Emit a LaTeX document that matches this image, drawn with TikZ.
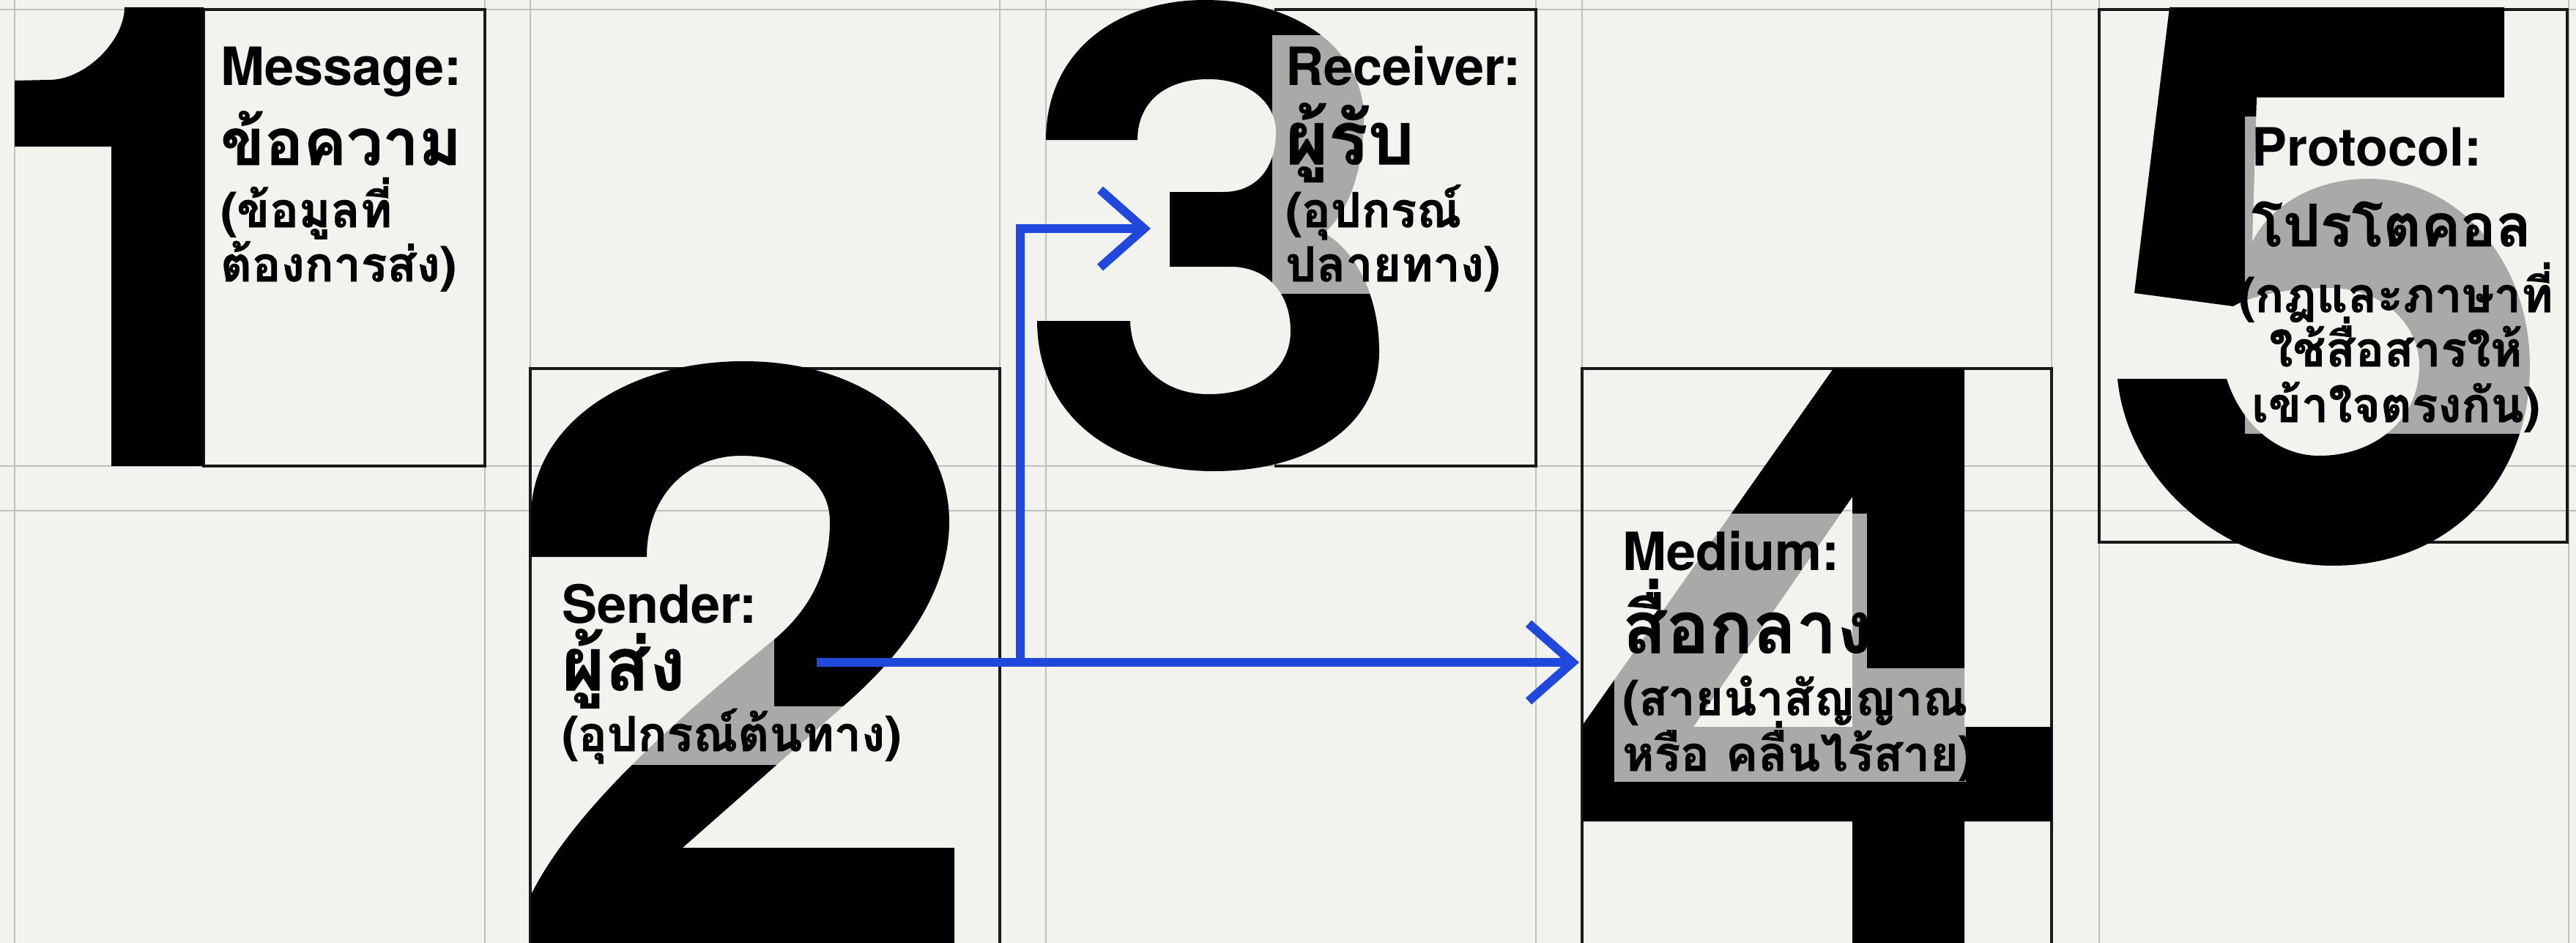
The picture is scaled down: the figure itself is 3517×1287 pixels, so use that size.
\documentclass[tikz,border=0pt]{standalone}
\usepackage{fontspec}
\usetikzlibrary{arrows.meta}
\newfontfamily\thaifont[Script=Thai,BoldFeatures={FakeBold=1}]{Loma}
\newfontfamily\latfont{TeX Gyre Heros}
\definecolor{bg}{RGB}{242,242,238}
\definecolor{gridc}{RGB}{192,192,190}
\definecolor{boxc}{RGB}{25,25,25}
\definecolor{flowblue}{RGB}{32,72,220}
\tikzset{
 gridline/.style={draw=gridc, line width=2.5pt},
 boxline/.style={draw=boxc, line width=3.5pt},
 glyph/.style={fill=black},
 veil/.style={fill=bg, fill opacity=0.7},
 latin/.style={inner sep=0pt, anchor=base west, font=\latfont\bfseries\fontsize{72}{72}\selectfont},
 thaititle/.style={inner sep=0pt, anchor=base west, font=\thaifont\bfseries\fontsize{#1}{#1}\selectfont},
 thaititle/.default=96,
 thainote/.style={inner sep=0pt, anchor=base west, font=\thaifont\bfseries\fontsize{66}{66}\selectfont},
 flow/.style={draw=flowblue, line width=12pt, -{Straight Barb[length=60pt,width=106pt]}},
}
\begin{document}
\begin{tikzpicture}[x=1pt,y=-1pt]
\useasboundingbox (0,0) rectangle (3517,1287);
\clip (0,0) rectangle (3517,1287);
\fill[bg] (0,0) rectangle (3517,1287);
% grid
\foreach \gx in {20,662,724,1365,1428,2097,2160,2801,2866,3507}
  \draw[gridline] (\gx,0) -- (\gx,1287);
\foreach \gy in {13,636,697}
  \draw[gridline] (0,\gy) -- (3517,\gy);
% boxes
\draw[boxline] (278,13) rectangle (662,636);
\draw[boxline] (724,1300) -- (724,503) -- (1365,503) -- (1365,1300);
\draw[boxline] (1740,13) -- (2097,13) -- (2097,636) -- (1740,636);
\draw[boxline] (2160,1300) -- (2160,503) -- (2801,503) -- (2801,1300);
\draw[boxline] (2866,13) rectangle (3505,740);
% digit 1
\fill[glyph] (20,110) -- (67,109) .. controls (117,109) and (170,55) .. (170,10)
  -- (278,10) -- (278,636) -- (152,636) -- (152,200) -- (20,200) -- cycle;
% digit 2
\fill[glyph] (725,760) -- (725,705) .. controls (725,580) and (855,493) .. (1015,493)
  .. controls (1185,493) and (1296,590) .. (1296,712)
  .. controls (1296,810) and (1230,896) .. (1151,964)
  -- (932,1157) -- (1303,1157) -- (1303,1300) -- (725,1300) -- (725,1221)
  .. controls (785,1101) and (933,974) .. (1053,876)
  .. controls (1110,830) and (1133,775) .. (1133,712)
  .. controls (1133,655) and (1080,622) .. (1012,622)
  .. controls (940,622) and (883,675) .. (883,760) -- cycle;
% digit 3
\fill[glyph] (1428,191) -- (1553,191)
  .. controls (1553,140) and (1590,108) .. (1650,108)
  .. controls (1705,108) and (1742,140) .. (1742,180)
  .. controls (1742,230) and (1715,262) .. (1670,262)
  -- (1597,262) -- (1597,364) -- (1680,364)
  .. controls (1730,364) and (1762,400) .. (1762,452)
  .. controls (1762,505) and (1715,538) .. (1650,538)
  .. controls (1590,538) and (1545,500) .. (1543,438)
  -- (1416,438)
  .. controls (1416,560) and (1510,643) .. (1657,643)
  .. controls (1790,643) and (1883,580) .. (1883,480)
  .. controls (1883,410) and (1855,345) .. (1808,318)
  .. controls (1840,290) and (1862,235) .. (1862,160)
  .. controls (1862,72) and (1775,0) .. (1645,0)
  .. controls (1525,0) and (1428,70) .. (1428,191) -- cycle;
% digit 4
\fill[glyph, even odd rule] (2503,503) -- (2682,503) -- (2682,992) -- (2801,992) -- (2801,1121)
  -- (2682,1121) -- (2682,1300) -- (2529,1300) -- (2529,1121) -- (2161,1121) -- (2161,989) -- cycle
  (2529,678) -- (2529,992) -- (2312,992) -- cycle;
% digit 5
\fill[glyph] (2962,10) -- (3419,10) -- (3419,133) -- (3081,133) -- (3075,330)
  .. controls (3100,280) and (3160,244) .. (3234,244)
  .. controls (3350,244) and (3454,350) .. (3454,500)
  .. controls (3454,655) and (3345,772) .. (3185,772)
  .. controls (3040,772) and (2905,660) .. (2891,517)
  -- (3040,517)
  .. controls (3060,580) and (3110,622) .. (3166,622)
  .. controls (3245,622) and (3303,570) .. (3303,500)
  .. controls (3303,440) and (3250,393) .. (3180,393)
  .. controls (3120,393) and (3070,405) .. (3049,418)
  -- (2914,400) -- cycle;
% veils behind text
\fill[veil] (750,780) rectangle (1057,964);
\fill[veil] (750,964) rectangle (1250,1044);
\fill[veil] (1737,48) rectangle (2090,401);
\fill[veil] (2204,701) rectangle (2549,912);
\fill[veil] (2204,912) rectangle (2684,1067);
\fill[veil] (3065,159) rectangle (3495,592);
% texts
\node[latin] (t1a) at (301,117) {Message:};
\node[thaititle=88] (t1b) at (301,225) {ข้อความ};
\node[thainote] (t1c) at (301,310) {(ข้อมูลที่};
\node[thainote] (t1d) at (301,384) {ต้องการส่ง)};
\node[latin] (t2a) at (767,850) {Sender:};
\node[thaititle=100] (t2b) at (767,942) {ผู้ส่ง};
\node[thainote] (t2c) at (767,1025) {(อุปกรณ์ต้นทาง)};
\node[latin] (t3a) at (1755,117) {Receiver:};
\node[thaititle=100] (t3b) at (1755,224) {ผู้รับ};
\node[thainote] (t3c) at (1755,310) {(อุปกรณ์};
\node[thainote] (t3d) at (1755,384) {ปลายทาง)};
\node[latin] (t4a) at (2215,778) {Medium:};
\node[thaititle=98] (t4b) at (2215,891) {สื่อกลาง};
\node[thainote] (t4c) at (2215,976) {(สายนำสัญญาณ};
\node[thainote] (t4d) at (2215,1052) {หรือ คลื่นไร้สาย)};
\node[latin] (t5a) at (3074,226) {Protocol:};
\node[thaititle=80] (t5b) at (3074,336) {โปรโตคอล};
\node[thainote,anchor=base] (t5c) at (3271,426) {(กฎและภาษาที่};
\node[thainote,anchor=base] (t5d) at (3271,500) {ใช้สื่อสารให้};
\node[thainote,anchor=base] (t5e) at (3271,576) {เข้าใจตรงกัน)};
% flows
\coordinate (src) at (1115,904);
\coordinate (junc) at (1393,904);
\coordinate (medium) at (2156,904);
\coordinate (recv) at (1571,312);
\draw[flow] (src) -- (medium);
\draw[flow] (junc) |- (recv);
\end{tikzpicture}
\end{document}
